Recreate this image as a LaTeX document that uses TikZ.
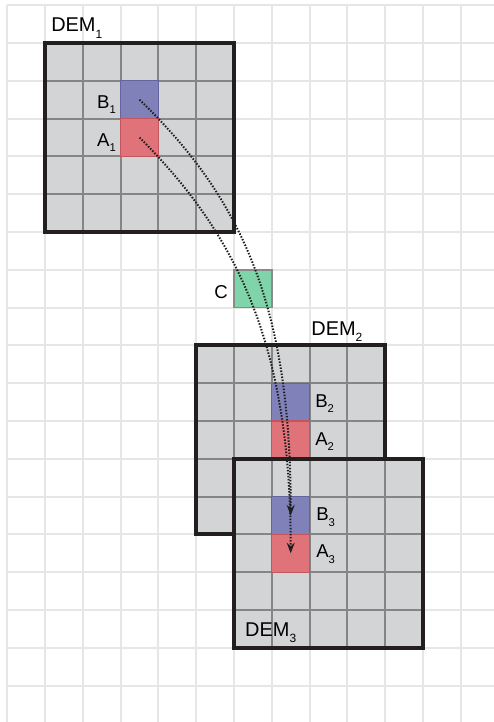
\documentclass[tikz,border=0pt]{standalone}
\usepackage{fontspec}
\setmainfont{Liberation Sans}
\usetikzlibrary{arrows.meta}
\definecolor{pagegrid}{HTML}{E6E6E6}
\definecolor{demfill}{HTML}{D3D4D6}
\definecolor{demline}{HTML}{858585}
\definecolor{demborder}{HTML}{231F20}
\definecolor{bfill}{HTML}{8081B8}
\definecolor{bline}{HTML}{6465A0}
\definecolor{afill}{HTML}{E07279}
\definecolor{aline}{HTML}{C4545E}
\definecolor{cfill}{HTML}{80D4A9}
\definecolor{cline}{HTML}{8A8A8A}
\definecolor{dotcol}{HTML}{1E1E1E}
\newcommand{\lbl}[2]{#1\raisebox{-4.5pt}{\fontsize{8.5}{8.5}\selectfont #2}}
\newcommand{\dlbl}[2]{#1\raisebox{-5pt}{\fontsize{9}{9}\selectfont #2}}
\tikzset{
  pgline/.style={pagegrid, line width=1.5pt},
  demgridpic/.pic={
    \fill[demfill] (0,0) rectangle (5,-5);
    \draw[demline, line width=1.5pt] (0,-5) grid (5,0);
    \draw[demborder, line width=3pt] (0,0) rectangle (5,-5);
  },
  bcell/.style={draw=bline, fill=bfill, line width=1pt, minimum size=1cm, inner sep=0pt, outer sep=0pt},
  acell/.style={draw=aline, fill=afill, line width=1pt, minimum size=1cm, inner sep=0pt, outer sep=0pt},
  ccell/.style={draw=cline, fill=cfill, line width=1.2pt, minimum size=1cm, inner sep=0pt, outer sep=0pt},
  demlabel/.style={inner sep=0pt, font=\fontsize{15}{15}\selectfont},
  celllabel/.style={inner sep=0pt, font=\fontsize{14}{14}\selectfont},
  conn/.style={dotcol, line width=1.5pt, dash pattern=on 1.1pt off 1.2pt,
    -{Stealth[length=8pt, width=6pt, inset=2.8pt]}},
}
\begin{document}
\begin{tikzpicture}
\useasboundingbox (-0.1905,0.1376) rectangle (12.878,-18.963);
% page grid
\foreach \i in {0,...,12} \draw[pgline] (\i,0) -- (\i,-18.963);
\foreach \j in {0,...,18} \draw[pgline] (0,-\j) -- (12.878,-\j);
% DEMs
\pic at (1,-1) {demgridpic};
\pic at (5,-9) {demgridpic};
\node[bcell] (B2) at (7.5,-10.5) {};
\node[acell] (A2) at (7.5,-11.5) {};
\pic at (6,-12) {demgridpic};
\node[bcell] (B1) at (3.5,-2.5) {};
\node[acell] (A1) at (3.5,-3.5) {};
\node[bcell] (B3) at (7.5,-13.5) {};
\node[acell] (A3) at (7.5,-14.5) {};
\node[ccell] (C) at (6.5,-7.5) {};
% labels
\node[demlabel, anchor=base west] (L1) at (1.159,-0.701) {\dlbl{DEM}{1}};
\node[demlabel, anchor=base west] (L2) at (8.04,-8.725) {\dlbl{DEM}{2}};
\node[demlabel, anchor=base west] (L3) at (6.29,-16.69) {\dlbl{DEM}{3}};
\node[celllabel, anchor=base east] (lb1) at (2.88,-2.72) {\lbl{B}{1}};
\node[celllabel, anchor=base east] (la1) at (2.88,-3.725) {\lbl{A}{1}};
\node[celllabel, anchor=base east] (lc) at (5.84,-7.75) {C};
\node[celllabel, anchor=base west] (lb2) at (8.143,-10.63) {\lbl{B}{2}};
\node[celllabel, anchor=base west] (la2) at (8.143,-11.635) {\lbl{A}{2}};
\node[celllabel, anchor=base west] (lb3) at (8.17,-13.62) {\lbl{B}{3}};
\node[celllabel, anchor=base west] (la3) at (8.17,-14.6) {\lbl{A}{3}};
% connectors
\draw[conn] (B1.center) .. controls (6.3,-5.2) and (7.5,-8.1) .. (B3.center);
\draw[conn] (A1.center) .. controls (6.16,-6.15) and (7.5,-9.1) .. (A3.center);
\end{tikzpicture}
\end{document}
